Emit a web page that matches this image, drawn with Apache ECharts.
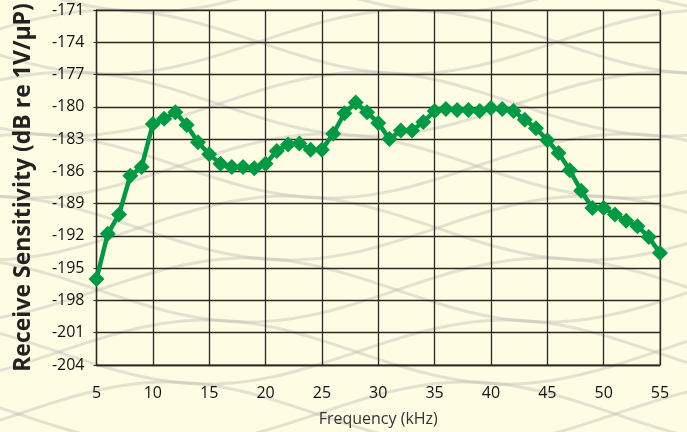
<!DOCTYPE html>
<html><head><meta charset="utf-8">
<script src="https://cdn.jsdelivr.net/npm/echarts@6/dist/echarts.min.js"></script>
<style>html,body{margin:0;padding:0;background:#FEFCE3;}#c{width:687px;height:432px;}</style>
</head><body><div id="c"></div>
<script>
const frequencies = [5,6,7,8,9,10,11,12,13,14,15,16,17,18,19,20,21,22,23,24,25,26,27,28,29,30,31,32,33,34,35,36,37,38,39,40,41,42,43,44,45,46,47,48,49,50,51,52,53,54,55];
const sensitivity = [-196.0,-191.8,-190.0,-186.4,-185.6,-181.6,-181.1,-180.5,-181.7,-183.3,-184.4,-185.3,-185.6,-185.6,-185.7,-185.3,-184.1,-183.5,-183.4,-184.0,-184.0,-182.5,-180.6,-179.6,-180.5,-181.5,-183.0,-182.2,-182.2,-181.4,-180.4,-180.2,-180.3,-180.3,-180.4,-180.1,-180.2,-180.4,-181.2,-182.0,-183.1,-184.3,-185.9,-187.8,-189.4,-189.4,-190.0,-190.6,-191.1,-192.1,-193.6];
const xTicks = {min:5, max:55, interval:5};
const yTicks = {min:-204, max:-171, interval:3};
const xTitle = 'Frequency (kHz)';
const yTitle = 'Receive Sensitivity (dB re 1V/μP)';

const font = '"Open Sans", sans-serif';
const gridColor = '#2e2622';

// decorative background waves (not data)
const deco = [];
for (let k = 0; k < 8; k++) {
  const y0 = -20 + k * 62;
  for (const sgn of [1, -1]) {
    const pts = [];
    for (let x = -20; x <= 710; x += 10) {
      pts.push([x, y0 + sgn * 32 * Math.sin((x + k * 40) / 95)]);
    }
    deco.push({type: 'polyline', silent: true, z: -10, shape: {points: pts},
      style: {fill: null, stroke: 'rgba(190,188,180,0.42)', lineWidth: 3}});
  }
}

const chart = echarts.init(document.getElementById('c'), null, {renderer:'canvas'});
chart.setOption({
  backgroundColor: '#FEFCE3',
  animation: false,
  graphic: {elements: deco},
  grid: {left: 96.5, right: 27, top: 10, bottom: 67, show: true, borderColor: '#6b625c', borderWidth: 1, backgroundColor: 'transparent'},
  xAxis: {
    type: 'value', min: xTicks.min, max: xTicks.max, interval: xTicks.interval,
    name: xTitle, nameLocation: 'middle', nameGap: 46,
    nameTextStyle: {fontFamily: font, fontSize: 16, color: '#333'},
    axisLine: {show: true, onZero: false, lineStyle: {color: gridColor, width: 1.3}},
    axisTick: {show: false},
    axisLabel: {fontFamily: font, fontSize: 16, color: '#111', margin: 20},
    splitLine: {show: true, lineStyle: {color: gridColor, width: 1.3}}
  },
  yAxis: {
    type: 'value', min: yTicks.min, max: yTicks.max, interval: yTicks.interval,
    name: yTitle, nameLocation: 'middle', nameGap: 62, nameRotate: 90,
    nameTextStyle: {fontFamily: font, fontSize: 23, fontWeight: 'bold', color: '#222'},
    axisLine: {show: true, lineStyle: {color: gridColor, width: 1.3}},
    axisTick: {show: true, length: 3, lineStyle: {color: gridColor}},
    axisLabel: {fontFamily: font, fontSize: 16, color: '#111', margin: 12},
    splitLine: {show: true, lineStyle: {color: gridColor, width: 1.3}}
  },
  series: [{
    type: 'line',
    data: frequencies.map((f, i) => [f, sensitivity[i]]),
    symbol: 'diamond', symbolSize: 16,
    lineStyle: {color: '#009A44', width: 4.5},
    itemStyle: {color: '#009A44'}
  }]
});
</script></body></html>
